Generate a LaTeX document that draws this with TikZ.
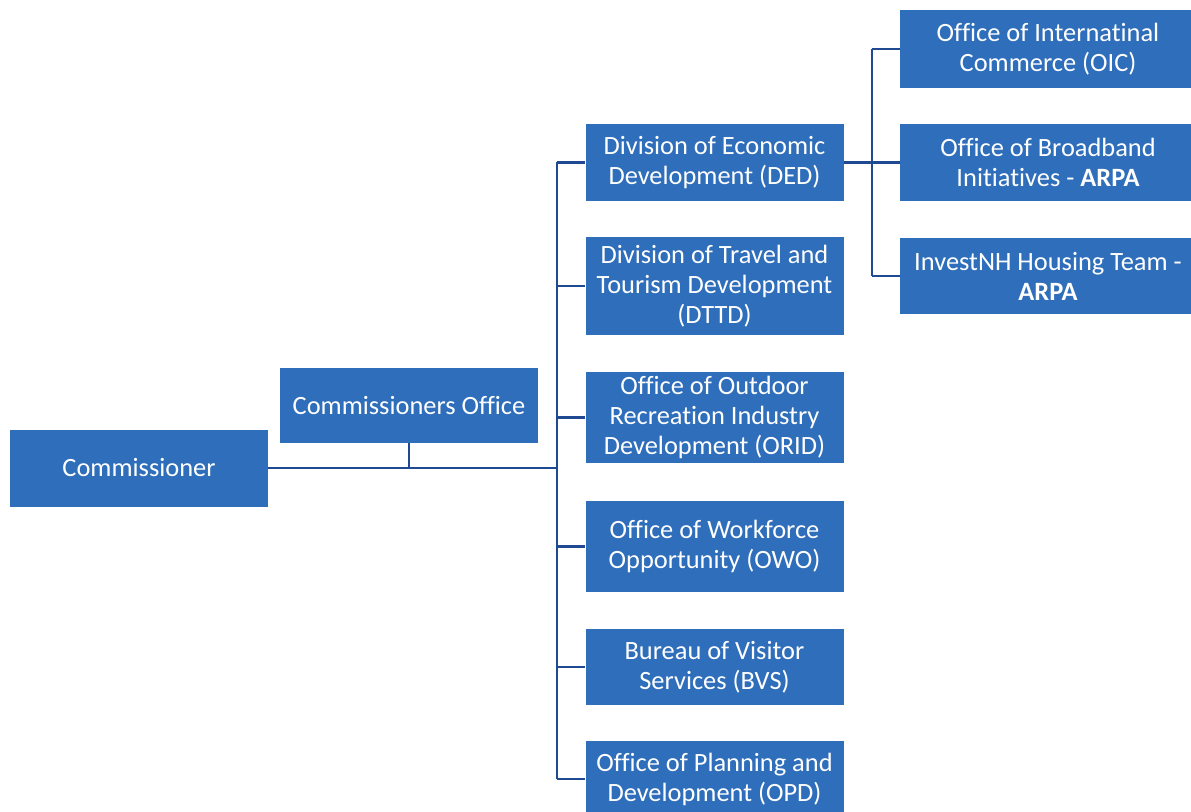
\documentclass[tikz,border=0pt]{standalone}
\usepackage{fontspec}
\setmainfont{Carlito}[Ligatures=NoCommon]
\definecolor{boxblue}{HTML}{2F6EBA}
\definecolor{lineblue}{HTML}{1F4A92}
\begin{document}
\begin{tikzpicture}[x=0.75pt,y=-0.75pt,
  box/.style={fill=boxblue, text=white, font=\fontsize{19.8}{22.5}\selectfont, align=center, inner sep=0pt, draw=none},
  wbox/.style={box, minimum width=193.5pt},
  rbox/.style={box, minimum width=222pt},
  conn/.style={draw=lineblue, line width=2.1pt}]
\useasboundingbox (0,0) rectangle (1191,812);
\clip (0,0) rectangle (1191,812);
\fill[white] (0,0) rectangle (1191,812);

\node[wbox, minimum height=57.75pt] (comm) at (139,468) {Commissioner};
\node[wbox, minimum height=56.25pt] (co) at (409,405.5) {Commissioners Office};

\node[wbox, minimum height=57.75pt] (ded) at (714.5,162.5) {Division of Economic\\Development (DED)};
\node[wbox, minimum height=73.5pt] (dttd) at (714.5,286) {Division of Travel and\\Tourism Development\\(DTTD)};
\node[wbox, minimum height=68.25pt] (orid) at (714.5,417.5) {Office of Outdoor\\Recreation Industry\\Development (ORID)};
\node[wbox, minimum height=68.25pt] (owo) at (714.5,546.5) {Office of Workforce\\Opportunity (OWO)};
\node[wbox, minimum height=57pt] (bvs) at (714.5,667) {Bureau of Visitor\\Services (BVS)};
\node[wbox, minimum height=57.75pt] (opd) at (714.5,779) {Office of Planning and\\Development (OPD)};

\node[rbox, minimum height=58.5pt] (oic) at (1048,49) {Office of Internatinal\\Commerce (OIC)};
\node[rbox, minimum height=57.75pt] (obi) at (1048,162.5) {Office of Broadband\\Initiatives - \textbf{ARPA}};
\node[rbox, minimum height=57pt] (inh) at (1048,276) {InvestNH Housing Team -\\\textbf{ARPA}};

\coordinate (tr) at (557,0);
\coordinate (tr2) at (872,0);

% left trunk
\draw[conn] (tr |- ded.west) -- (tr |- opd.west);
\draw[conn] (comm.east) -- (tr |- comm.east);
\draw[conn] (co.south) -- (co.south |- comm.east);
\foreach \n in {ded,dttd,orid,owo,bvs,opd}
  \draw[conn] (tr |- \n.west) -- (\n.west);

% right trunk
\draw[conn] (tr2 |- oic.west) -- (tr2 |- inh.west);
\draw[conn] (ded.east) -- (obi.west);
\draw[conn] (tr2 |- oic.west) -- (oic.west);
\draw[conn] (tr2 |- inh.west) -- (inh.west);
\end{tikzpicture}
\end{document}
